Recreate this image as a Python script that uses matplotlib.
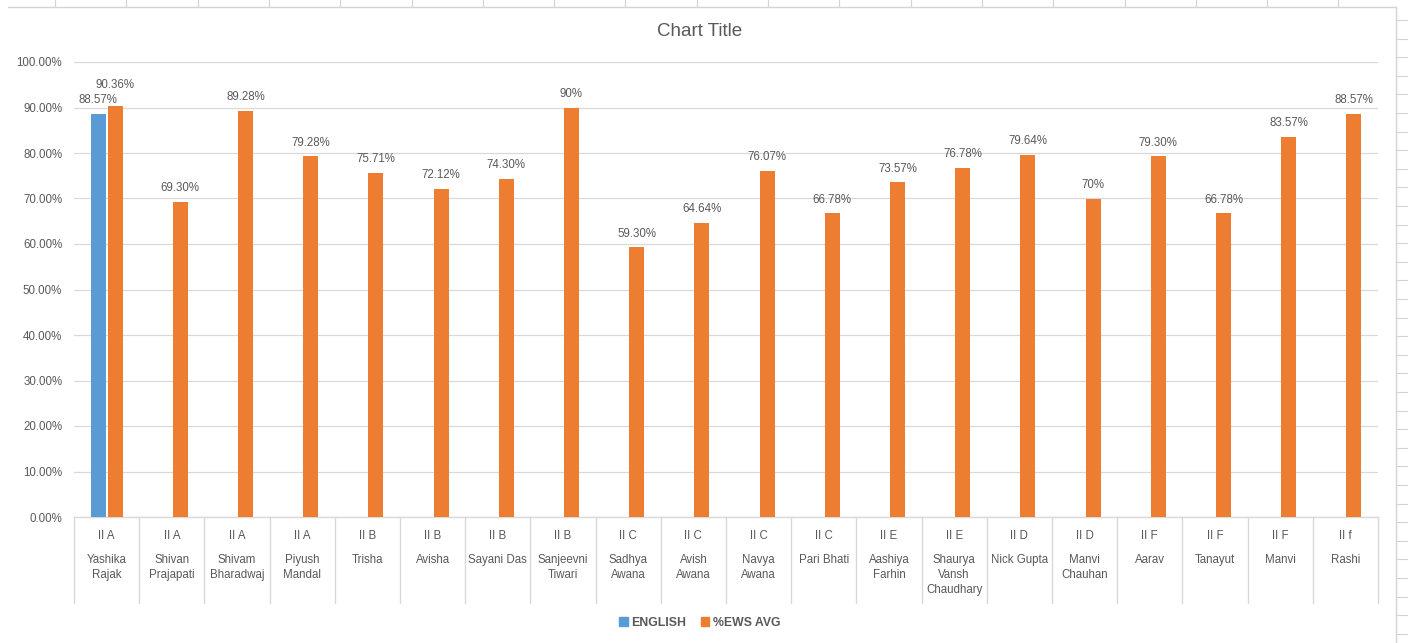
import numpy as np
import matplotlib.pyplot as plt
from matplotlib.lines import Line2D
from matplotlib.patches import Patch
import matplotlib.transforms as mtransforms

plt.rcParams['font.family'] = ['Liberation Sans', 'DejaVu Sans']

# data
classes = ["II A", "II A", "II A", "II A", "II B", "II B", "II B", "II B",
           "II C", "II C", "II C", "II C", "II E", "II E", "II D", "II D",
           "II F", "II F", "II F", "II f"]
names = ["Yashika\nRajak", "Shivan\nPrajapati", "Shivam\nBharadwaj", "Piyush\nMandal",
         "Trisha", "Avisha", "Sayani Das", "Sanjeevni\nTiwari", "Sadhya\nAwana",
         "Avish\nAwana", "Navya\nAwana", "Pari Bhati", "Aashiya\nFarhin",
         "Shaurya\nVansh\nChaudhary", "Nick Gupta", "Manvi\nChauhan", "Aarav",
         "Tanayut", "Manvi", "Rashi"]
english = [0.8857] + [np.nan] * 19
english_labels = ["88.57%"] + [""] * 19
ews_avg = [0.9036, 0.6930, 0.8928, 0.7928, 0.7571, 0.7212, 0.7430, 0.90,
           0.5930, 0.6464, 0.7607, 0.6678, 0.7357, 0.7678, 0.7964, 0.70,
           0.7930, 0.6678, 0.8357, 0.8857]
ews_labels = ["90.36%", "69.30%", "89.28%", "79.28%", "75.71%", "72.12%",
              "74.30%", "90%", "59.30%", "64.64%", "76.07%", "66.78%",
              "73.57%", "76.78%", "79.64%", "70%", "79.30%", "66.78%",
              "83.57%", "88.57%"]

blue = "#5B9BD5"
orange = "#ED7D31"
txt = "#595959"
grid = "#D9D9D9"
fs = 8.3

W, H = 1408, 643
fig = plt.figure(figsize=(W / 100, H / 100), dpi=100)
ax = fig.add_axes([74 / W, 1 - 517 / H, (1378 - 74) / W, (517 - 62) / H])

x = np.arange(len(names))
bw = 0.23
ax.bar(x - 0.13, english, width=bw, color=blue, zorder=3)
ax.bar(x + 0.13, ews_avg, width=bw, color=orange, zorder=3)

for i in x:
    if not np.isnan(english[i]):
        ax.annotate(english_labels[i], (i - 0.13, english[i]), xytext=(0, 5.5),
                    textcoords="offset points", ha="center", va="bottom",
                    fontsize=fs, color=txt)
        off = 10.5
    else:
        off = 5.5
    ax.annotate(ews_labels[i], (i + 0.13, ews_avg[i]), xytext=(0, off),
                textcoords="offset points", ha="center", va="bottom",
                fontsize=fs, color=txt)

ax.set_xlim(-0.5, len(names) - 0.5)
ax.set_ylim(0, 1.0)
ax.set_yticks(np.arange(0, 1.01, 0.1))
ax.set_yticklabels([f"{v * 100:.2f}%" for v in np.arange(0, 1.01, 0.1)])
ax.tick_params(axis="y", length=0, labelsize=fs, labelcolor=txt, pad=8.5)
ax.set_xticks([])
ax.grid(axis="y", color=grid, lw=0.9, zorder=0)
for s in ["top", "right", "left"]:
    ax.spines[s].set_visible(False)
ax.spines["bottom"].set_color(grid)
ax.spines["bottom"].set_linewidth(1.0)

# multi-level category axis
ah = 517 - 62
trans = mtransforms.blended_transform_factory(ax.transData, ax.transAxes)
for b in np.arange(-0.5, len(names), 1.0):
    ax.add_line(Line2D([b, b], [0, -86 / ah], transform=trans, color=grid,
                       lw=1.0, clip_on=False))
for i in x:
    ax.text(i, -19 / ah, classes[i], transform=trans, ha="center", va="center",
            fontsize=fs, color=txt)
    ax.text(i, -37 / ah, names[i], transform=trans, ha="center", va="top",
            fontsize=fs, color=txt, linespacing=1.35)

fig.text(0.497, 1 - 31 / H, "Chart Title", ha="center", va="center",
         fontsize=13.5, color=txt)

handles = [Patch(color=blue, label="ENGLISH"), Patch(color=orange, label="%EWS AVG")]
leg = fig.legend(handles=handles, loc="center", bbox_to_anchor=(0.497, 1 - 623 / H),
                 ncol=2, frameon=False, fontsize=fs + 0.5, handlelength=0.7,
                 handleheight=0.7, handletextpad=0.3, columnspacing=1.2)
for t in leg.get_texts():
    t.set_color(txt)
    t.set_fontweight("bold")

# spreadsheet cell lines around the chart
cell = "#D4D4D4"
fig.add_artist(Line2D([8 / W, 1396 / W], [1 - 7 / H, 1 - 7 / H], color=cell, lw=1.0))
fig.add_artist(Line2D([1396 / W, 1396 / W], [0, 1 - 7 / H], color=cell, lw=1.0))
for cx in np.arange(55, 1396, 71.3):
    fig.add_artist(Line2D([cx / W, cx / W], [1 - 7 / H, 1], color=cell, lw=0.8))
for cy in np.arange(20, H, 18.6):
    fig.add_artist(Line2D([1396 / W, 1], [1 - cy / H, 1 - cy / H], color=cell, lw=0.8))

fig.savefig("out.png", dpi=100)
